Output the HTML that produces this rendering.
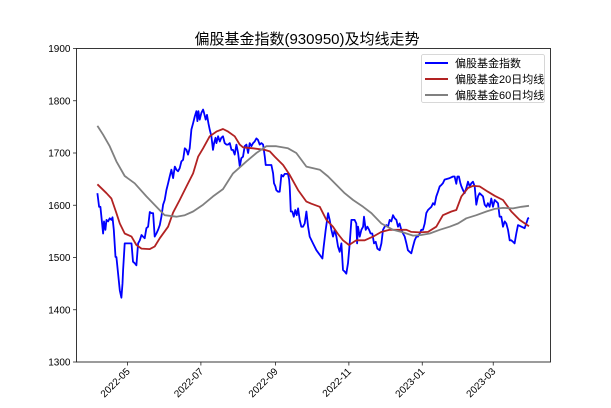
<!DOCTYPE html>
<html><head><meta charset="utf-8"><style>
html,body{margin:0;padding:0;background:#fff;}
svg{display:block;font-family:"Liberation Sans","Noto Sans CJK SC",sans-serif;}
</style></head><body>
<svg id="chart" width="611" height="408" viewBox="0 0 611 408" xmlns="http://www.w3.org/2000/svg">
<rect x="0" y="0" width="611" height="408" fill="#fff"/>
<text x="307" y="44" text-anchor="middle" font-size="15" fill="#000">偏股基金指数(930950)及均线走势</text>
<g id="grid"></g>
<g id="series"></g>
<rect x="76.5" y="48.5" width="474" height="313.5" fill="none" stroke="#222" stroke-width="0.9"/>
<g id="axes"></g>
<g>
<rect x="421.5" y="54.5" width="123" height="48" rx="2" fill="#fff" fill-opacity="0.85" stroke="#ccc" stroke-width="0.8"/>
<line x1="425" y1="63" x2="448" y2="63" stroke="#0000ff" stroke-width="2"/>
<text x="455" y="67" font-size="11">偏股基金指数</text>
<line x1="425" y1="79" x2="448" y2="79" stroke="#b22222" stroke-width="2"/>
<text x="455" y="83" font-size="11">偏股基金20日均线</text>
<line x1="425" y1="95" x2="448" y2="95" stroke="#808080" stroke-width="2"/>
<text x="455" y="99" font-size="11">偏股基金60日均线</text>
</g>
</svg>
<script>
const startDate = "2022-04-06";
const indexDays = [0,1.4,2.5,3.9,4.7,5.5,6.6,7.5,8.9,10.2,11.6,12.5,13.6,15.0,15.8,17.2,18.6,19.9,20.8,21.3,22.7,25.5,28.3,29.6,31.0,32.4,33.8,35.2,36.6,37.9,39.3,40.7,42.1,43.5,44.9,46.3,47.6,49.0,50.4,51.8,53.2,54.6,55.9,57.3,58.7,60.1,61.5,62.9,64.3,65.6,67.0,68.4,69.8,71.2,72.6,74.0,75.3,76.7,78.1,79.5,80.9,82.3,83.1,83.9,85.0,86.4,87.8,88.6,90.0,91.1,92.2,93.3,94.7,96.1,97.0,98.1,98.9,100.3,101.7,103.0,104.4,105.8,107.2,108.6,110.0,111.4,112.7,114.1,115.5,116.9,118.3,119.6,121.0,122.4,123.8,125.2,126.6,128.0,129.4,130.7,132.1,133.5,134.9,136.3,137.7,139.1,139.9,141.8,144.6,146.0,146.8,147.9,148.7,150.1,151.5,152.9,154.3,155.7,158.4,159.3,159.8,160.7,162.0,163.2,164.5,165.6,166.8,168.1,169.5,170.9,172.3,173.7,175.1,176.4,179.2,182.0,184.8,187.0,188.1,189.7,190.9,191.7,193.1,194.5,195.8,197.2,198.6,200.0,201.4,202.8,204.1,205.5,206.9,208.3,209.7,211.1,213.8,215.2,215.8,216.6,218.0,219.4,220.8,221.6,223.0,224.4,225.8,227.1,228.5,229.9,231.3,232.7,234.6,236.0,237.4,238.8,240.2,241.5,242.9,244.3,245.7,247.1,248.5,249.8,251.2,252.6,254.0,255.4,256.8,258.1,259.5,260.9,262.3,263.7,265.1,266.5,267.9,269.2,270.6,272.0,273.4,274.8,276.2,277.6,278.9,280.3,281.7,283.1,284.5,285.9,287.2,288.6,290.0,292.8,295.6,296.9,298.3,299.2,300.5,301.7,302.5,303.9,305.2,306.6,308.0,309.4,310.8,312.2,313.6,314.9,316.3,317.7,319.1,320.5,321.9,323.3,324.6,326.0,327.4,328.8,330.2,331.6,333.0,334.3,335.7,337.1,338.5,339.9,341.3,342.7,344.0,345.4,346.8,348.2,349.6,352.4,355.1,356.5,357.9,358.7];
const indexValues = [1623,1597,1597,1565,1546,1569,1553,1572,1569,1575,1572,1577,1553,1501,1501,1469,1437,1423,1450,1476,1527,1527,1527,1492,1489,1485,1527,1533,1543,1540,1537,1556,1559,1587,1585,1585,1540,1546,1553,1562,1578,1601,1610,1629,1642,1655,1668,1652,1674,1668,1665,1671,1684,1687,1709,1706,1697,1709,1745,1757,1770,1780,1761,1780,1764,1777,1783,1777,1764,1773,1757,1745,1732,1706,1719,1729,1719,1732,1722,1729,1732,1719,1716,1716,1719,1706,1706,1697,1716,1700,1674,1690,1693,1713,1716,1700,1719,1713,1719,1722,1728,1725,1716,1719,1716,1693,1677,1677,1677,1661,1642,1636,1629,1626,1626,1658,1655,1660,1660,1649,1636,1588,1588,1578,1591,1581,1594,1572,1559,1559,1565,1588,1559,1540,1527,1514,1505,1498,1521,1553,1572,1585,1572,1553,1540,1553,1540,1521,1511,1527,1476,1473,1469,1489,1527,1572,1572,1565,1527,1559,1540,1553,1559,1578,1553,1559,1553,1546,1546,1527,1530,1517,1514,1527,1553,1559,1562,1559,1572,1569,1581,1575,1572,1559,1565,1553,1546,1540,1527,1514,1511,1508,1521,1533,1540,1540,1546,1553,1553,1565,1585,1591,1594,1597,1604,1601,1617,1626,1636,1639,1642,1649,1650,1652,1655,1655,1641,1655,1655,1642,1636,1629,1623,1633,1645,1636,1642,1645,1636,1601,1617,1623,1620,1617,1601,1597,1604,1597,1613,1597,1610,1607,1604,1578,1578,1559,1569,1565,1553,1533,1533,1530,1527,1546,1562,1559,1556,1565,1575,1576];
const ma20Days = [0,7.5,11.6,15.8,18.6,22.7,28.3,32.4,36.6,43.5,47.6,51.8,58.7,62.9,68.4,74.0,79.5,83.7,87.8,93.3,98.9,104.4,108.6,114.1,118.3,121.0,129.4,139.1,143.3,147.4,154.3,159.8,166.8,173.7,177.8,184.8,190.3,195.8,200.0,204.1,209.1,215.2,222.2,229.1,236.0,242.9,249.8,256.8,260.9,267.9,274.8,281.7,287.2,294.2,298.3,302.5,308.0,312.2,317.7,324.6,330.2,337.1,344.0,350.9,358.7];
const ma20Values = [1640,1623,1613,1585,1565,1546,1540,1524,1517,1516,1521,1537,1559,1586,1610,1636,1661,1693,1709,1732,1741,1746,1741,1732,1716,1711,1709,1706,1703,1693,1677,1658,1629,1607,1603,1597,1572,1559,1545,1533,1524,1533,1533,1540,1549,1553,1553,1553,1549,1548,1549,1559,1581,1588,1591,1617,1633,1637,1636,1626,1618,1610,1588,1572,1560];
const ma60Days = [0,4.7,10.2,15.8,22.7,31.0,40.7,49.0,55.9,65.6,72.6,79.5,87.8,96.1,104.4,112.7,123.8,132.1,140.4,148.7,158.4,165.3,173.7,184.8,191.7,198.6,205.5,212.5,220.8,227.7,236.0,245.7,254.0,262.3,269.2,276.2,284.5,292.8,299.7,306.6,314.9,323.3,330.2,337.1,345.4,352.4,358.7];
const ma60Values = [1752,1735,1713,1684,1656,1642,1617,1597,1581,1578,1581,1588,1601,1617,1631,1661,1684,1700,1713,1713,1709,1700,1674,1668,1655,1639,1623,1610,1597,1585,1565,1553,1548,1542,1543,1546,1553,1559,1565,1575,1581,1588,1593,1595,1594,1597,1599];
const yTicks = [1300,1400,1500,1600,1700,1800,1900];
const xTickLabels = ["2022-05","2022-07","2022-09","2022-11","2023-01","2023-03"];

const NS = "http://www.w3.org/2000/svg";
const plot = {l:76.5, r:550.5, t:48.5, b:362};
const dayMs = 86400000;
const t0 = Date.parse(startDate + "T00:00:00Z");
const xMinDay = -17.4, xMaxDay = 376.6;
function xScale(day){ return plot.l + (day - xMinDay) / (xMaxDay - xMinDay) * (plot.r - plot.l); }
function yScale(v){ return plot.b - (v - 1300) / 600 * (plot.b - plot.t); }
function dateToDay(s){ return (Date.parse(s + "-01T00:00:00Z") - t0) / dayMs; }

const axes = document.getElementById("axes");
yTicks.forEach(v => {
  const y = yScale(v);
  const tk = document.createElementNS(NS, "line");
  
  
  tk.setAttribute("x1", plot.l - 3.5); tk.setAttribute("x2", plot.l);
  tk.setAttribute("y1", y); tk.setAttribute("y2", y);
  tk.setAttribute("stroke", "#222"); tk.setAttribute("stroke-width", "0.8");
  axes.appendChild(tk);
  const tx = document.createElementNS(NS, "text");
  
  
  tx.setAttribute("x", plot.l - 6); tx.setAttribute("y", y + 3.5);
  tx.setAttribute("text-anchor", "end"); tx.setAttribute("font-size", "10");
  tx.textContent = v;
  axes.appendChild(tx);
});
xTickLabels.forEach(lbl => {
  const x = xScale(dateToDay(lbl));
  const tk = document.createElementNS(NS, "line");
  
  
  tk.setAttribute("x1", x); tk.setAttribute("x2", x);
  tk.setAttribute("y1", plot.b); tk.setAttribute("y2", plot.b + 3.5);
  tk.setAttribute("stroke", "#222"); tk.setAttribute("stroke-width", "0.8");
  axes.appendChild(tk);
  const tx = document.createElementNS(NS, "text");
  
  
  tx.setAttribute("x", x + 3); tx.setAttribute("y", plot.b + 10);
  tx.setAttribute("text-anchor", "end"); tx.setAttribute("font-size", "10");
  tx.setAttribute("transform", "rotate(-45 " + (x + 3) + " " + (plot.b + 10) + ")");
  tx.textContent = lbl;
  axes.appendChild(tx);
});

const series = document.getElementById("series");
function drawLine(days, vals, color, name){
  const p = document.createElementNS(NS, "polyline");
  
  
  p.setAttribute("points", days.map((d,i) => xScale(d).toFixed(1) + "," + yScale(vals[i]).toFixed(1)).join(" "));
  p.setAttribute("fill", "none"); p.setAttribute("stroke", color);
  p.setAttribute("stroke-width", "1.8"); p.setAttribute("stroke-linejoin", "round");
  series.appendChild(p);
}
drawLine(indexDays, indexValues, "#0000ff", "index-line");
drawLine(ma20Days, ma20Values, "#b22222", "ma20-line");
drawLine(ma60Days, ma60Values, "#808080", "ma60-line");
</script>
</body></html>
